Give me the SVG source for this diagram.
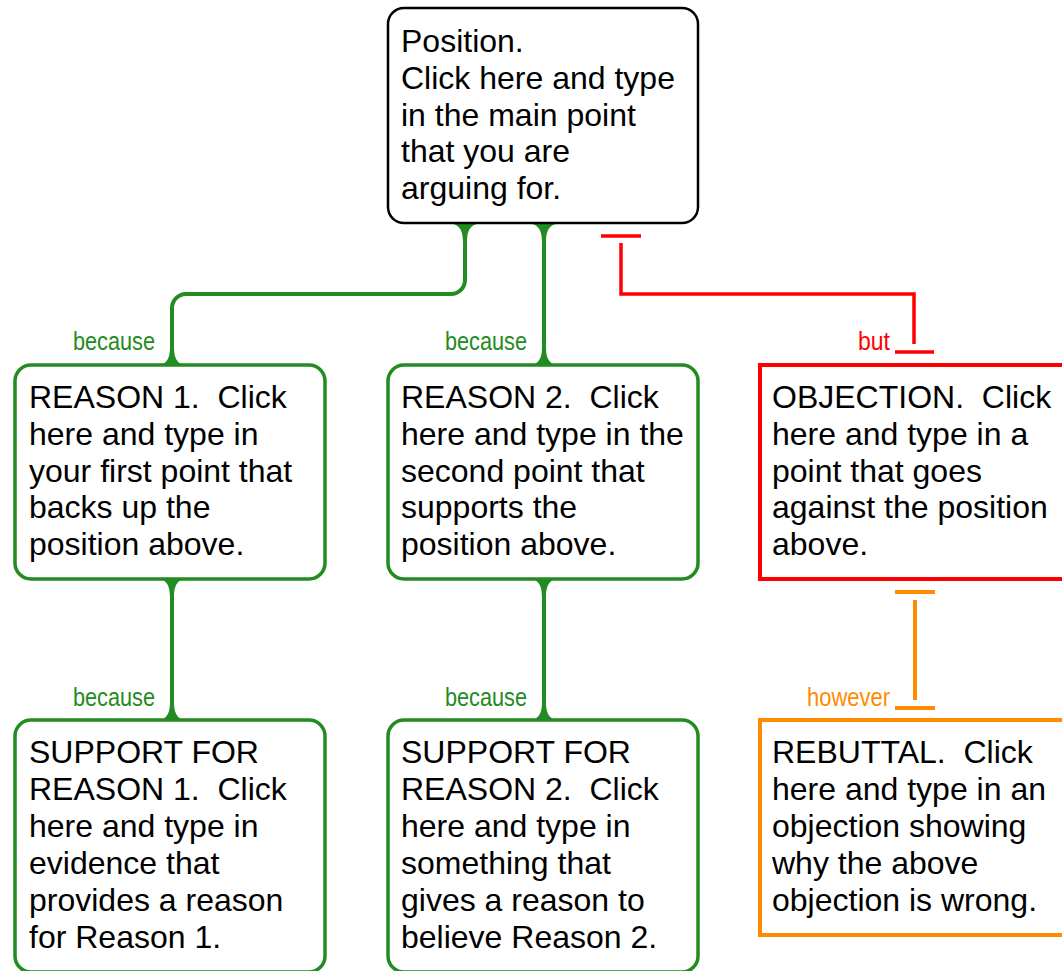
<svg xmlns="http://www.w3.org/2000/svg" width="1062" height="971" viewBox="0 0 1062 971">
  <style>
    .box { fill: #ffffff; }
    .pos { stroke: #000000; stroke-width: 2.5; }
    .sup { stroke: #228B22; stroke-width: 3.5; }
    .obj { stroke: #FF0000; stroke-width: 4; }
    .reb { stroke: #FF8C00; stroke-width: 4; }
    .txt { font-family: "Liberation Sans", Arial, sans-serif; font-size: 32px; fill: #000000; }
    .lbl { font-family: "Liberation Sans", Arial, sans-serif; font-size: 25px; }
    .g-line { fill: none; stroke: #228B22; stroke-width: 4; }
    .g-flare { fill: #228B22; }
    .r-line { fill: none; stroke: #FF0000; stroke-width: 3.5; }
    .o-line { fill: none; stroke: #FF8C00; stroke-width: 4; }
  </style>

  <!-- connectors -->
  <g id="connectors">
    <!-- support links (green) -->
    <path class="g-line" d="M465,224 V280 A14,14 0 0 1 451,294 H186 A14,14 0 0 0 172,308 V365"/>
    <path class="g-line" d="M544,224 V365"/>
    <path class="g-line" d="M172,579 V720"/>
    <path class="g-line" d="M544,579 V720"/>
    <!-- fillets where links meet boxes -->
    <path class="g-flare" d="M445,223 L485,223 C472,223 467,228 467,242 L463,242 C463,228 458,223 445,223 Z"/>
    <path class="g-flare" d="M524,223 L564,223 C551,223 546,228 546,242 L542,242 C542,228 537,223 524,223 Z"/>
    <path class="g-flare" d="M152,366 L192,366 C179,366 174,361 174,347 L170,347 C170,361 165,366 152,366 Z"/>
    <path class="g-flare" d="M524,366 L564,366 C551,366 546,361 546,347 L542,347 C542,361 537,366 524,366 Z"/>
    <path class="g-flare" d="M152,578 L192,578 C179,578 174,583 174,597 L170,597 C170,583 165,578 152,578 Z"/>
    <path class="g-flare" d="M524,578 L564,578 C551,578 546,583 546,597 L542,597 C542,583 537,578 524,578 Z"/>
    <path class="g-flare" d="M152,721 L192,721 C179,721 174,716 174,702 L170,702 C170,716 165,721 152,721 Z"/>
    <path class="g-flare" d="M524,721 L564,721 C551,721 546,716 546,702 L542,702 C542,716 537,721 524,721 Z"/>

    <!-- objection link (red) -->
    <path class="r-line" d="M601,236 H641"/>
    <path class="r-line" d="M621,243 V294 H914 V344"/>
    <path class="r-line" d="M895,352 H934"/>

    <!-- rebuttal link (orange) -->
    <path class="o-line" d="M895,592 H935"/>
    <path class="o-line" d="M915,600 V700"/>
    <path class="o-line" d="M895,708 H935"/>

    <!-- link labels -->
    <text class="lbl" x="73" y="350" fill="#228B22" textLength="82" lengthAdjust="spacingAndGlyphs">because</text>
    <text class="lbl" x="445" y="350" fill="#228B22" textLength="82" lengthAdjust="spacingAndGlyphs">because</text>
    <text class="lbl" x="73" y="706" fill="#228B22" textLength="82" lengthAdjust="spacingAndGlyphs">because</text>
    <text class="lbl" x="445" y="706" fill="#228B22" textLength="82" lengthAdjust="spacingAndGlyphs">because</text>
    <text class="lbl" x="858" y="350" fill="#FF0000" textLength="32" lengthAdjust="spacingAndGlyphs">but</text>
    <text class="lbl" x="807" y="706" fill="#FF8C00" textLength="83" lengthAdjust="spacingAndGlyphs">however</text>
  </g>

  <g id="position">
    <rect class="box pos" x="388" y="8" width="310" height="215" rx="16"/>
    <text class="txt">
      <tspan x="401" y="52">Position.</tspan>
      <tspan x="401" y="89">Click here and type</tspan>
      <tspan x="401" y="126">in the main point</tspan>
      <tspan x="401" y="162">that you are</tspan>
      <tspan x="401" y="199">arguing for.</tspan>
    </text>
  </g>

  <g id="reason1">
    <rect class="box sup" x="15" y="365" width="310" height="214" rx="16"/>
    <text class="txt" xml:space="preserve">
      <tspan x="29" y="408">REASON 1.  Click</tspan>
      <tspan x="29" y="445">here and type in</tspan>
      <tspan x="29" y="482">your first point that</tspan>
      <tspan x="29" y="518">backs up the</tspan>
      <tspan x="29" y="555">position above.</tspan>
    </text>
  </g>

  <g id="reason2">
    <rect class="box sup" x="388" y="365" width="310" height="214" rx="16"/>
    <text class="txt" xml:space="preserve">
      <tspan x="401" y="408">REASON 2.  Click</tspan>
      <tspan x="401" y="445">here and type in the</tspan>
      <tspan x="401" y="482">second point that</tspan>
      <tspan x="401" y="518">supports the</tspan>
      <tspan x="401" y="555">position above.</tspan>
    </text>
  </g>

  <g id="objection">
    <rect class="box obj" x="760" y="365" width="312" height="214"/>
    <text class="txt" xml:space="preserve">
      <tspan x="772" y="408">OBJECTION.  Click</tspan>
      <tspan x="772" y="445">here and type in a</tspan>
      <tspan x="772" y="482">point that goes</tspan>
      <tspan x="772" y="518">against the position</tspan>
      <tspan x="772" y="555">above.</tspan>
    </text>
  </g>

  <g id="support1">
    <rect class="box sup" x="15" y="720" width="310" height="252" rx="16"/>
    <text class="txt" xml:space="preserve">
      <tspan x="29" y="763">SUPPORT FOR</tspan>
      <tspan x="29" y="800">REASON 1.  Click</tspan>
      <tspan x="29" y="837">here and type in</tspan>
      <tspan x="29" y="874">evidence that</tspan>
      <tspan x="29" y="911">provides a reason</tspan>
      <tspan x="29" y="948">for Reason 1.</tspan>
    </text>
  </g>

  <g id="support2">
    <rect class="box sup" x="388" y="720" width="310" height="252" rx="16"/>
    <text class="txt" xml:space="preserve">
      <tspan x="401" y="763">SUPPORT FOR</tspan>
      <tspan x="401" y="800">REASON 2.  Click</tspan>
      <tspan x="401" y="837">here and type in</tspan>
      <tspan x="401" y="874">something that</tspan>
      <tspan x="401" y="911">gives a reason to</tspan>
      <tspan x="401" y="948">believe Reason 2.</tspan>
    </text>
  </g>

  <g id="rebuttal">
    <rect class="box reb" x="760" y="720" width="312" height="215"/>
    <text class="txt" xml:space="preserve">
      <tspan x="772" y="763">REBUTTAL.  Click</tspan>
      <tspan x="772" y="800">here and type in an</tspan>
      <tspan x="772" y="837">objection showing</tspan>
      <tspan x="772" y="874">why the above</tspan>
      <tspan x="772" y="911">objection is wrong.</tspan>
    </text>
  </g>
</svg>
